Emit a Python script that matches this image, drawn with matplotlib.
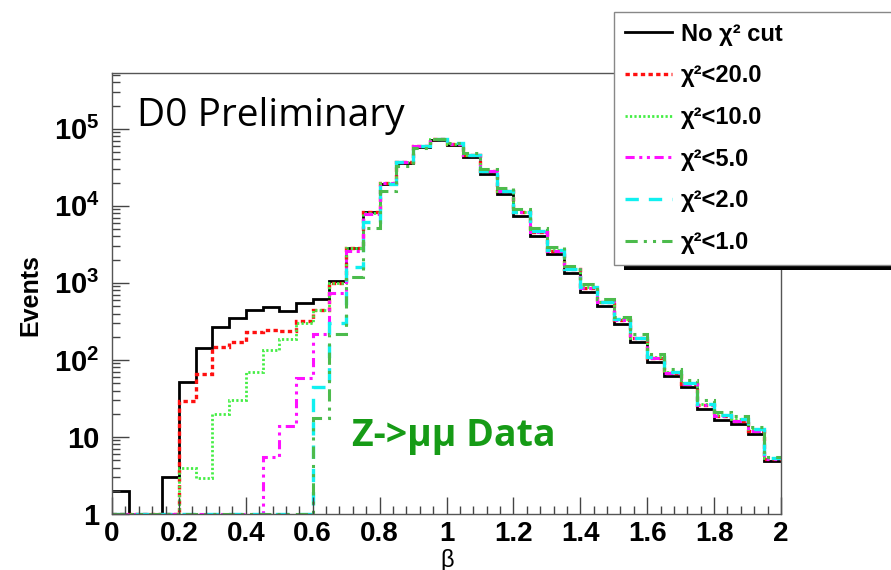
import numpy as np
import matplotlib
matplotlib.use("Agg")
import matplotlib.pyplot as plt
from matplotlib.ticker import FixedLocator, MultipleLocator, NullFormatter, FuncFormatter
from matplotlib.patches import Rectangle
from matplotlib.transforms import IdentityTransform

plt.rcParams['font.family'] = ['Liberation Sans', 'DejaVu Sans']
plt.rcParams['mathtext.default'] = 'regular'

# ---------------- data ----------------
beta_min = 0.0
beta_max = 2.0
n_bins = 40

no_cut = [2, 0, 0, 3, 51, 143, 266, 348, 446, 483,
          437, 555, 620, 1050, 2870, 8200, 19400, 36500, 58700, 72000,
          62000, 42900, 25800, 14100, 7400, 4100, 2350, 1340, 770, 500,
          295, 173, 95, 62, 44, 23, 16.6, 14.7, 10.8, 4.9]

chi2_lt20 = [0, 0, 0, 0, 29, 65, 145, 173, 233, 245,
             240, 324, 446, 1000, 2870, 8200, 19800, 37500, 60000, 73000,
             64000, 45500, 28000, 15500, 8200, 4600, 2600, 1500, 860, 560,
             330, 190, 105, 68, 49, 26, 18.5, 16.3, 12, 5.2]

chi2_lt10 = [0, 0, 0, 0, 3.9, 2.9, 20, 30, 70, 135,
             186, 300, 446, 1000, 2870, 8100, 19800, 37500, 60000, 73500,
             64000, 45500, 28500, 15800, 8300, 4700, 2650, 1520, 880, 570,
             335, 195, 108, 70, 50, 27, 19, 17, 12.5, 5.3]

chi2_lt5 = [0, 0, 0, 0, 0, 0, 0, 0, 0, 5.5,
            13.8, 59, 215, 740, 2560, 7900, 19600, 37500, 60000, 73500,
            64000, 45500, 28000, 15500, 8200, 4600, 2600, 1500, 860, 560,
            330, 190, 105, 68, 49, 26, 18.5, 16.3, 12, 5.2]

chi2_lt2 = [0, 0, 0, 0, 0, 0, 0, 0, 0, 0,
            0, 0, 44, 305, 1620, 6250, 19000, 37500, 60500, 74000,
            64500, 46000, 28500, 15800, 8300, 4700, 2650, 1520, 880, 570,
            335, 195, 108, 70, 50, 27, 19, 17, 12.5, 5.3]

chi2_lt1 = [0, 0, 0, 0, 0, 0, 0, 0, 0, 0,
            0, 0, 17.5, 215, 1200, 5100, 15400, 33000, 57000, 74000,
            66000, 48000, 30000, 17000, 9000, 5100, 2900, 1680, 960, 620,
            365, 215, 118, 76, 55, 30, 21, 18.5, 13.5, 5.5]

labels = ["No χ² cut", "χ²<20.0", "χ²<10.0", "χ²<5.0", "χ²<2.0", "χ²<1.0"]
x_tick_values = [0, 0.2, 0.4, 0.6, 0.8, 1.0, 1.2, 1.4, 1.6, 1.8, 2.0]
y_tick_values = [1, 10, 1e2, 1e3, 1e4, 1e5]
y_tick_labels = ["1", "10", "$10^{2}$", "$10^{3}$", "$10^{4}$", "$10^{5}$"]

# ---------------- styles ----------------
styles = [
    dict(color="black", linestyle="solid", lw=2.0),
    dict(color="#ff1010", linestyle=(0, (1.3, 1.0)), lw=2.4),
    dict(color="#44ee44", linestyle=(0, (0.8, 0.8)), lw=2.0),
    dict(color="#ff10ff", linestyle=(0, (3.0, 1.5, 1.0, 1.5, 1.0, 1.5)), lw=2.2),
    dict(color="#10f0f0", linestyle=(0, (4.0, 3.0)), lw=2.4),
    dict(color="#4cbb4c", linestyle=(0, (4.0, 2.0, 1.0, 2.0, 1.0, 2.0)), lw=2.2),
]

W, H = 891, 570
fig = plt.figure(figsize=(W / 100, H / 100), dpi=100)
ax_l, ax_r, ax_t, ax_b = 112, 781, 73, 514
ax = fig.add_axes([ax_l / W, 1 - ax_b / H, (ax_r - ax_l) / W, (ax_b - ax_t) / H])

edges = np.linspace(beta_min, beta_max, n_bins + 1)
series = [no_cut, chi2_lt20, chi2_lt10, chi2_lt5, chi2_lt2, chi2_lt1]
y_bottom = 1.0
for vals, lab, st in zip(series, labels, styles):
    v = np.maximum(np.asarray(vals, dtype=float), y_bottom)
    ax.stairs(v, edges, baseline=None, label=lab, **st)

ax.set_yscale("log")
ax.set_xlim(beta_min, beta_max)
ax.set_ylim(y_bottom, 5.3e5)

ax.xaxis.set_major_locator(FixedLocator(x_tick_values))
ax.xaxis.set_major_formatter(FuncFormatter(lambda v, p: "%g" % v))
ax.xaxis.set_minor_locator(MultipleLocator(0.04))
ax.yaxis.set_major_locator(FixedLocator(y_tick_values))
ax.set_yticklabels(y_tick_labels)
ax.yaxis.set_minor_locator(matplotlib.ticker.LogLocator(base=10, subs=np.arange(2, 10)))
ax.yaxis.set_minor_formatter(NullFormatter())

ax.tick_params(which="both", direction="in", top=False, right=False, color="#444444", width=1)
ax.tick_params(which="major", length=12)
ax.tick_params(which="minor", length=6)
ax.tick_params(axis="x", which="major", labelsize=20, pad=5)
ax.tick_params(axis="y", which="major", labelsize=21, pad=9)
for lab in ax.get_xticklabels() + ax.get_yticklabels():
    lab.set_fontweight("bold")
for sp in ax.spines.values():
    sp.set_color("#555555")
    sp.set_linewidth(1.0)

fig.text(30 / W, 1 - 295 / H, "Events", rotation=90, fontsize=18, fontweight="bold",
         ha="center", va="center")
fig.text(447 / W, 1 - 560 / H, "β", fontsize=17, ha="center", va="center")

fig.text(137 / W, 1 - 116 / H, "D0 Preliminary", fontsize=28, family=["Open Sans", "DejaVu Sans"],
         ha="left", va="center")
fig.text(352 / W, 1 - 436 / H, "Z->μμ Data", fontsize=27, fontweight="bold",
         family=["Open Sans", "DejaVu Sans"], color="#169b16", ha="left", va="center")

leg = fig.legend(loc="upper left", bbox_to_anchor=(614 / W, 0.5, 0.5, 1 - 12 / H - 0.5),
                 mode="expand", borderaxespad=0, fancybox=False, framealpha=1,
                 prop=dict(family="Liberation Sans", weight="bold", size=17),
                 handlelength=2.0, handletextpad=0.4, borderpad=0.45, labelspacing=0.79)
leg.get_frame().set_edgecolor("#888888")
leg.get_frame().set_linewidth(1.0)
leg.set_zorder(10)

fig.canvas.draw()
bb = leg.get_window_extent()
shadow = Rectangle((bb.x0 + 10, bb.y0 - 5), bb.width, bb.height, transform=IdentityTransform(),
                   facecolor="black", edgecolor="none", zorder=9)
fig.add_artist(shadow)

fig.savefig("out.png", dpi=100)
